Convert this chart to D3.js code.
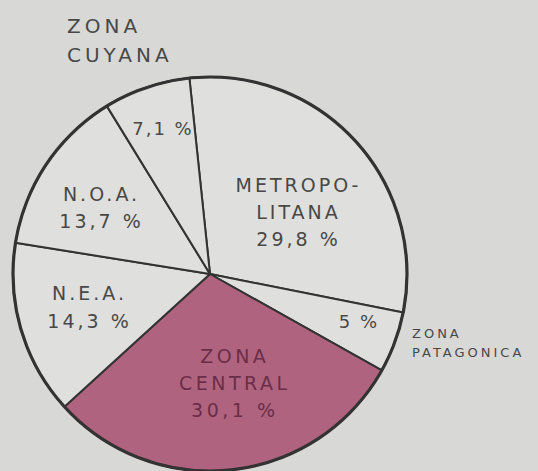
<!DOCTYPE html>
<html>
<head>
<meta charset="utf-8">
<script src="https://cdn.jsdelivr.net/npm/d3@7"></script>
<style>
  html, body { margin: 0; padding: 0; background: #d8d8d6; }
  svg { display: block; }
  text { font-family: "DejaVu Sans", sans-serif; fill: #484848; }
</style>
</head>
<body>
<div class="chart"></div>
<script>
// zonas, en el orden de las agujas del reloj desde arriba
var zonas = ["METROPOLITANA", "ZONA PATAGONICA", "ZONA CENTRAL", "N.E.A.", "N.O.A.", "ZONA CUYANA"];
var valores = [29.8, 5, 30.1, 14.3, 13.7, 7.1];
var etiquetas = ["29,8 %", "5 %", "30,1 %", "14,3 %", "13,7 %", "7,1 %"];

var width = 538, height = 471;
var cx = 210, cy = 274, radio = 197;

var svg = d3.select(".chart").append("svg")
    .attr("width", width)
    .attr("height", height);

var pie = d3.pie()
    .sort(null)
    .value(function(d){ return d; })
    .startAngle(-6 * Math.PI / 180)
    .endAngle(354 * Math.PI / 180);

var arc = d3.arc().innerRadius(0).outerRadius(radio);

var g = svg.append("g").attr("transform", "translate(" + cx + "," + cy + ")");

g.selectAll("path")
    .data(pie(valores))
    .enter()
    .append("path")
    .attr("d", arc)
    .attr("fill", function(d, i){ return zonas[i] == "ZONA CENTRAL" ? "#b0637f" : "#dfdfdd"; })
    .attr("stroke", "#333")
    .attr("stroke-width", 2)
    .attr("stroke-linejoin", "round");

// borde exterior mas grueso
g.append("circle")
    .attr("r", radio)
    .attr("fill", "none")
    .attr("stroke", "#333")
    .attr("stroke-width", 3.2);

// textos (lineas por zona), colocados a mano como en el original
var textos = [
    {lineas: ["METROPO-", "LITANA", etiquetas[0]], x: 297, y: [192, 219, 246], size: 19, ls: 3},
    {lineas: [etiquetas[1]], x: 358, y: [328], size: 18, ls: 2},
    {lineas: ["ZONA", "CENTRAL", etiquetas[2]], x: 233, y: [363, 390, 417], size: 19, ls: 3.5, color: "#6a2e48"},
    {lineas: ["N.E.A.", etiquetas[3]], x: 88, y: [300, 328], size: 19, ls: 3},
    {lineas: ["N.O.A.", etiquetas[4]], x: 100, y: [201, 228], size: 19, ls: 3},
    {lineas: [etiquetas[5]], x: 162, y: [135], size: 18, ls: 2}
];

textos.forEach(function(t){
    t.lineas.forEach(function(l, j){
        svg.append("text")
            .attr("x", t.x + t.ls / 2)
            .attr("y", t.y[j])
            .attr("text-anchor", "middle")
            .style("font-size", t.size + "px")
            .style("letter-spacing", t.ls + "px")
            .style("fill", t.color || "#484848")
            .text(l);
    });
});

// rotulos de fuera
[["ZONA", 33], ["CUYANA", 62]].forEach(function(d){
    svg.append("text")
        .attr("x", 67).attr("y", d[1])
        .style("font-size", "20px")
        .style("letter-spacing", "4px")
        .text(d[0]);
});
[["ZONA", 338], ["PATAGONICA", 357]].forEach(function(d){
    svg.append("text")
        .attr("x", 412).attr("y", d[1])
        .style("font-size", "13px")
        .style("letter-spacing", "3px")
        .text(d[0]);
});
</script>
</body>
</html>
